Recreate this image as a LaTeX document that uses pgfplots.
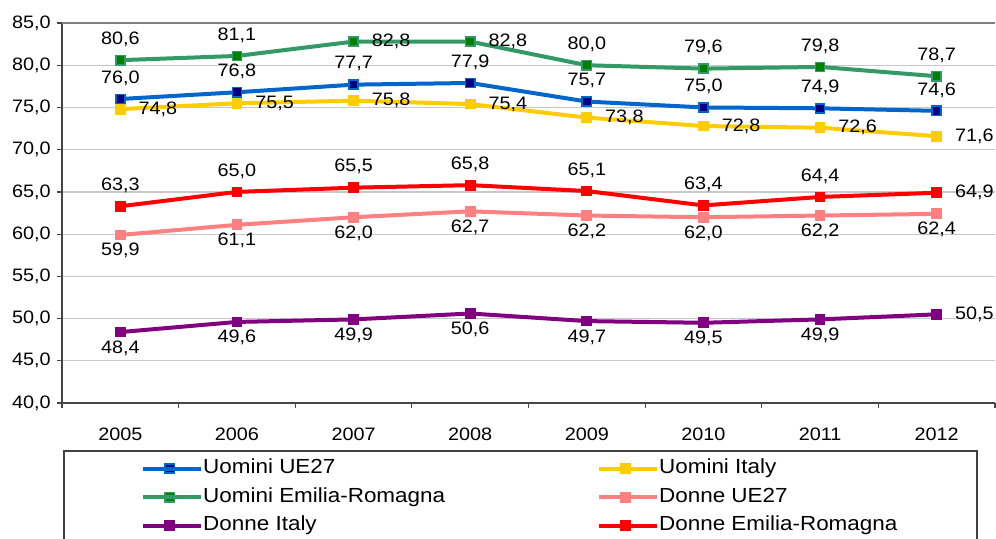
\documentclass[border=0pt]{standalone}
\usepackage{pgfplots}
\pgfplotsset{compat=1.18}
\usepackage{fontspec}
\setmainfont{Liberation Sans}[FakeStretch=1.1]
\definecolor{ueblue}{RGB}{0,102,204}
\definecolor{uenavy}{RGB}{0,0,128}
\definecolor{itgold}{RGB}{255,204,0}
\definecolor{ergreen}{RGB}{51,153,102}
\definecolor{ermark}{RGB}{0,128,0}
\definecolor{dpink}{RGB}{255,128,128}
\definecolor{dpurple}{RGB}{128,0,128}
\definecolor{dred}{RGB}{255,0,0}
\definecolor{axisgray}{RGB}{70,70,70}
\definecolor{gridgray}{RGB}{200,200,200}
\definecolor{topgray}{RGB}{128,128,128}
\pgfplotsset{
  lab/.style={forget plot, draw=none, mark=none, point meta=y, nodes near coords,
    nodes near coords style={text=black, inner sep=0pt, #1}},
  labA/.style={lab={anchor=south, yshift=6.5pt}},
  labB/.style={lab={anchor=north, yshift=-4pt}},
  labR/.style={lab={anchor=west, xshift=9pt}},
  ser/.style 2 args={color=#1, line width=2pt, mark=square*, mark size=2.3pt,
    mark options={solid, fill=#2, draw=#1, line width=0.8pt}},
}
\begin{document}
\fontsize{9}{11}\selectfont
\begin{tikzpicture}
\begin{axis}[
  at={(31pt,67.5pt)}, anchor=south west,
  scale only axis, width=466.5pt, height=190pt,
  xmin=-0.5, xmax=7.5, ymin=40, ymax=85,
  xtick={0,...,7},
  xticklabels={2005,2006,2007,2008,2009,2010,2011,2012},
  major x tick style={draw=none},
  minor xtick={-0.5,0.5,1.5,2.5,3.5,4.5,5.5,6.5,7.5},
  minor x tick style={axisgray, line width=0.6pt},
  minor tick length=2.5pt,
  ytick={40,45,...,85},
  major tick length=2.5pt,
  major y tick style={axisgray, line width=0.6pt},
  tick align=outside,
  axis x line*=bottom, axis y line*=left,
  x axis line style={draw=axisgray, line width=1pt},
  y axis line style={draw=axisgray, line width=0.8pt},
  ymajorgrids, major grid style={gridgray, line width=0.6pt},
  xticklabel style={yshift=-7pt},
  /pgf/number format/fixed, /pgf/number format/fixed zerofill,
  /pgf/number format/precision=1, /pgf/number format/use comma,
  /pgf/number format/assume math mode=true,
  clip=false,
  legend columns=2,
  legend cell align=left,
  legend image code/.code={
    \draw[#1, mark=none] (0pt,0pt) -- (26.5pt,0pt);
    \draw[#1, only marks] plot coordinates {(13.25pt,0pt)};
    \path (0pt,0pt) -- (29pt,0pt);
  },
  legend style={
    at={(0.0845,-0.1455)}, anchor=north west,
    draw=none, fill=none, inner sep=0pt,
    font=\fontsize{10.2}{12}\selectfont,
    row sep=4.25pt,
    nodes={inner xsep=0pt, inner ysep=0pt, text height=7.5pt, text depth=2.5pt},
    /tikz/every even column/.append style={column sep=76pt},
  },
]
\draw[topgray, line width=0.8pt] (rel axis cs:0,1) -- (rel axis cs:1,1);

\addplot[ser={ueblue}{uenavy}] coordinates {(0,76.0)(1,76.8)(2,77.7)(3,77.9)(4,75.7)(5,75.0)(6,74.9)(7,74.6)};
\addlegendentry{Uomini UE27}
\addplot[ser={itgold}{itgold}] coordinates {(0,74.8)(1,75.5)(2,75.8)(3,75.4)(4,73.8)(5,72.8)(6,72.6)(7,71.6)};
\addlegendentry{Uomini Italy}
\addplot[ser={ergreen}{ermark}] coordinates {(0,80.6)(1,81.1)(2,82.8)(3,82.8)(4,80.0)(5,79.6)(6,79.8)(7,78.7)};
\addlegendentry{Uomini Emilia-Romagna}
\addplot[ser={dpink}{dpink}] coordinates {(0,59.9)(1,61.1)(2,62.0)(3,62.7)(4,62.2)(5,62.0)(6,62.2)(7,62.4)};
\addlegendentry{Donne UE27}
\addplot[ser={dpurple}{dpurple}] coordinates {(0,48.4)(1,49.6)(2,49.9)(3,50.6)(4,49.7)(5,49.5)(6,49.9)(7,50.5)};
\addlegendentry{Donne Italy}
\addplot[ser={dred}{dred}] coordinates {(0,63.3)(1,65.0)(2,65.5)(3,65.8)(4,65.1)(5,63.4)(6,64.4)(7,64.9)};
\addlegendentry{Donne Emilia-Romagna}

% data labels
\addplot[labA] coordinates {(0,76.0)(1,76.8)(2,77.7)(3,77.9)(4,75.7)(5,75.0)(6,74.9)(7,74.6)};
\addplot[labR] coordinates {(0,74.8)(1,75.5)(2,75.8)(3,75.4)(4,73.8)(5,72.8)(6,72.6)(7,71.6)};
\addplot[labA] coordinates {(0,80.6)(1,81.1)(4,80.0)(5,79.6)(6,79.8)(7,78.7)};
\addplot[labR] coordinates {(2,82.8)(3,82.8)};
\addplot[labB] coordinates {(0,59.9)(1,61.1)(2,62.0)(3,62.7)(4,62.2)(5,62.0)(6,62.2)(7,62.4)};
\addplot[labB] coordinates {(0,48.4)(1,49.6)(2,49.9)(3,50.6)(4,49.7)(5,49.5)(6,49.9)};
\addplot[labR] coordinates {(7,50.5)};
\addplot[labA] coordinates {(0,63.3)(1,65.0)(2,65.5)(3,65.8)(4,65.1)(5,63.4)(6,64.4)};
\addplot[labR] coordinates {(7,64.9)};
\end{axis}
\draw[black!75, line width=0.6pt] (32pt,-5pt) -- (32pt,43.5pt) -- (488.5pt,43.5pt) -- (488.5pt,-5pt);
\pgfresetboundingbox
\path[use as bounding box] (0,0) rectangle (498pt,269pt);
\end{tikzpicture}
\end{document}
